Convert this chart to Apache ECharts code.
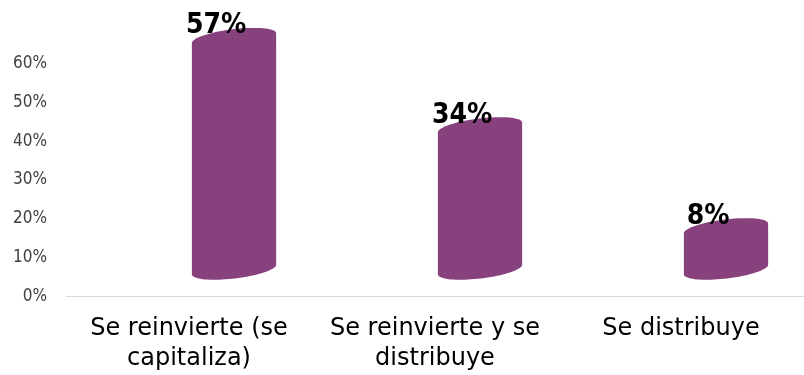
<!DOCTYPE html>
<html>
<head>
<meta charset="utf-8">
<style>
  html, body { margin: 0; padding: 0; background: #ffffff; }
  #chart { width: 804px; height: 375px; }
</style>
<script src="https://cdn.jsdelivr.net/npm/echarts@6/dist/echarts.min.js"></script>
</head>
<body>
<div id="chart"></div>
<script>
// Destino de las utilidades
var categories = ['Se reinvierte (se\ncapitaliza)', 'Se reinvierte y se\ndistribuye', 'Se distribuye'];
var values = [57, 34, 8];
var yTicks = [0, 10, 20, 30, 40, 50, 60];

var FONT = '"DejaVu Sans", sans-serif';
var FONT_NARROW = '"DejaVu Sans Condensed", "DejaVu Sans", sans-serif';
var BAR_COLOR = '#87417D';

// Points of a tilted ellipse arc, t from t0 to t1 (radians)
function arc(cx, cy, rx, ry, tilt, t0, t1, n) {
  var pts = [];
  var c = Math.cos(tilt), s = Math.sin(tilt);
  for (var i = 0; i <= n; i++) {
    var t = t0 + (t1 - t0) * i / n;
    var ex = rx * Math.cos(t), ey = ry * Math.sin(t);
    pts.push([cx + ex * c - ey * s, cy + ex * s + ey * c]);
  }
  return pts;
}

// Cylinder drawn in perspective: body shifted right and up from its category slot
function renderCylinder(params, api) {
  var idx = api.value(0);
  var v = api.value(1);
  var top = api.coord([idx, v]);
  var base = api.coord([idx, 0]);
  var band = api.size([1, 0])[0];
  var w = band * 0.345;
  var rx = w / 2;
  var ry = 9;
  var tilt = -0.12;
  var cx = base[0] + band * 0.183;
  var yTop = top[1] - 37;
  var yBot = base[1] - 27;
  var upper = arc(cx, yTop, rx, ry, tilt, Math.PI, 2 * Math.PI, 40);
  var lower = arc(cx, yBot, rx, ry, tilt, 0, Math.PI, 40);
  var pts = upper.concat(lower);
  return {
    type: 'group',
    children: [
      {
        type: 'polygon',
        shape: { points: pts },
        style: { fill: BAR_COLOR }
      },
      {
        type: 'text',
        x: base[0] + band * 0.11,
        y: top[1] - 49,
        style: {
          text: v + '%',
          fill: '#000000',
          font: 'bold 28px ' + FONT_NARROW,
          align: 'center',
          verticalAlign: 'middle'
        },
        z2: 10
      }
    ]
  };
}

var chart = echarts.init(document.getElementById('chart'), null, { renderer: 'canvas' });
chart.setOption({
  animation: false,
  backgroundColor: '#ffffff',
  grid: { left: 66, right: 0, top: 63.5, bottom: 78.5, containLabel: false },
  xAxis: {
    type: 'category',
    data: categories,
    offset: 2,
    axisLine: { show: true, lineStyle: { color: '#d9d9d9', width: 1 } },
    axisTick: { show: false },
    axisLabel: {
      color: '#000000',
      fontFamily: FONT,
      fontSize: 24,
      lineHeight: 30,
      margin: 15,
      interval: 0
    }
  },
  yAxis: {
    type: 'value',
    min: yTicks[0],
    max: yTicks[yTicks.length - 1],
    interval: yTicks[1] - yTicks[0],
    axisLine: { show: false },
    axisTick: { show: false },
    splitLine: { show: false },
    axisLabel: {
      color: '#404040',
      fontFamily: FONT_NARROW,
      fontSize: 17,
      margin: 19,
      formatter: '{value}%'
    }
  },
  series: [{
    type: 'custom',
    renderItem: renderCylinder,
    clip: false,
    data: values.map(function (v, i) { return [i, v]; }),
    encode: { x: 0, y: 1 }
  }]
});
</script>
</body>
</html>
